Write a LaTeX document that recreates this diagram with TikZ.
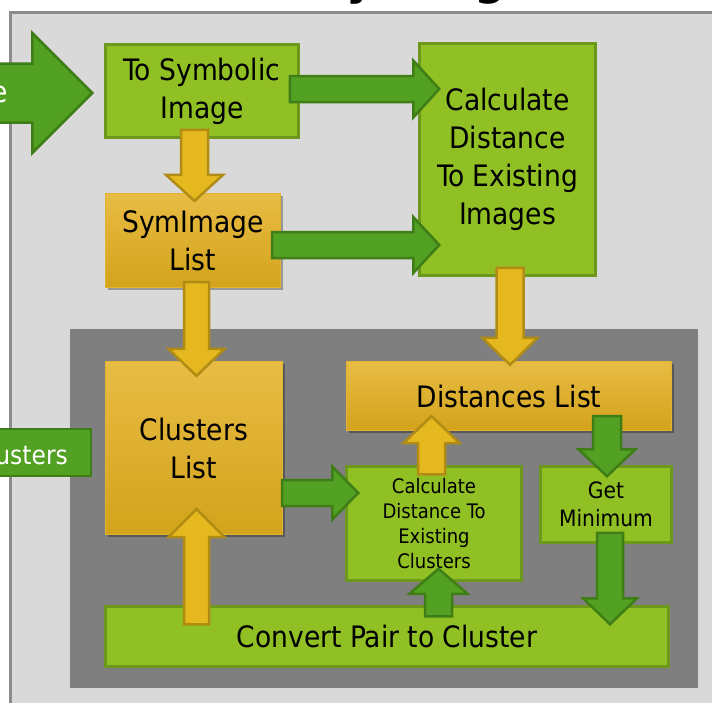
\documentclass[tikz,border=0pt]{standalone}
\usepackage{fontspec}
\setmainfont{DejaVu Sans Condensed}
\usetikzlibrary{calc,shadows}

\definecolor{panellight}{HTML}{D9D9D9}
\definecolor{panelline}{HTML}{8C8C8C}
\definecolor{paneldark}{HTML}{7F7F7F}
\definecolor{limefill}{HTML}{90C024}
\definecolor{limeline}{HTML}{6C991C}
\definecolor{grnfill}{HTML}{52A122}
\definecolor{grnline}{HTML}{3F7E17}
\definecolor{ylwfill}{HTML}{E6B820}
\definecolor{ylwline}{HTML}{B18C14}
\definecolor{ylwtop}{HTML}{E8BC44}
\definecolor{ylwbot}{HTML}{D3A31B}
\definecolor{ylwedge}{HTML}{E2B232}

% fat block arrow: style, tail, tip, half shaft width, half head width, head length
\newcommand\fatarrow[6]{%
  \coordinate (fa-b) at ($(#3)!#6!(#2)$);
  \draw[#1] ($(#2)!#4!90:(#3)$) -- ($(fa-b)!#4!90:(#3)$) -- ($(fa-b)!#5!90:(#3)$)
    -- (#3) -- ($(fa-b)!#5!-90:(#3)$) -- ($(fa-b)!#4!-90:(#3)$)
    -- ($(#2)!#4!-90:(#3)$) -- cycle;
}

\tikzset{
  bigtext/.style={font=\fontsize{29.5}{38}\selectfont},
  smalltext/.style={font=\fontsize{20}{25}\selectfont},
  limebox/.style={draw=limeline, fill=limefill, line width=2.5pt, inner sep=0pt,
    align=center, text=black},
  ylwbox/.style={draw=ylwedge, line width=1.2pt, top color=ylwtop, bottom color=ylwbot,
    inner sep=0pt, align=center, text=black,
    drop shadow={shadow xshift=2pt, shadow yshift=-2.5pt, opacity=0.3, fill=black}},
  grnarrow/.style={fill=grnfill, draw=grnline, line width=2.5pt, line join=miter},
  ylwarrow/.style={fill=ylwfill, draw=ylwline, line width=2.5pt, line join=miter},
}

\begin{document}
\begin{tikzpicture}[x=1pt, y=-1pt]
\useasboundingbox (0,0) rectangle (712,702);
\clip (0,0) rectangle (712,702);

% heading, sitting above the page edge
\node[anchor=base west, inner sep=0pt, font=\fontsize{50}{52}\selectfont\bfseries, text=black]
  (title) at (195,-7) {Library Diagram};

% panels
\fill[panellight, draw=panelline, line width=3pt] (10,12) rectangle (726,720);
\fill[paneldark] (70,329) rectangle (698,688);

% incoming label on the left
\node[fill=grnfill, draw=grnline, line width=2.5pt, minimum width=150pt, minimum height=47pt, inner sep=0pt]
  (clulabel) at (16,452.5) {};
\node[anchor=east, font=\fontsize{26}{30}\selectfont, text=white, inner sep=0pt] (clutext) at (68,455) {Clusters};

% upper stage
\node[limebox, bigtext, minimum width=193pt, minimum height=93pt] (tosym) at (202,91) {To Symbolic\\Image};
\node[limebox, bigtext, minimum width=176pt, minimum height=232pt] (calcdist) at (507.5,159.5)
  {Calculate\\Distance\\To Existing\\Images};
\node[ylwbox, bigtext, minimum width=175pt, minimum height=94pt] (symlist) at (193,240.5) {SymImage\\List};

% lower stage
\node[ylwbox, bigtext, minimum width=177pt, minimum height=173pt] (clusters) at (194,448) {Clusters\\List};
\node[ylwbox, bigtext, minimum width=325pt, minimum height=69pt] (distlist) at (509,396) {Distances List};
\node[limebox, smalltext, minimum width=175pt, minimum height=114pt] (calcclus) at (434,523.5)
  {Calculate\\Distance To\\Existing\\Clusters};
\node[limebox, font=\fontsize{22.5}{28}\selectfont, minimum width=131pt, minimum height=76pt] (getmin) at (606,504.5)
  {Get\\Minimum};
\node[limebox, bigtext, minimum width=563pt, minimum height=60pt] (convert) at (387,636.5)
  {Convert Pair to Cluster};

% arrow end points
\coordinate (inS) at (-80,93);
\coordinate (inT) at ($(tosym.west)+(-12,2)$);
\coordinate (a1s) at ($(tosym.east)+(-10,-2)$);
\coordinate (a1t) at ($(a1s -| calcdist.west)+(21,0)$);
\coordinate (a2s) at ($(symlist.east)+(-9,4.5)$);
\coordinate (a2t) at ($(a2s -| calcdist.west)+(21,0)$);
\coordinate (a3s) at ($(tosym.south)+(-7.5,-9)$);
\coordinate (a3t) at ($(a3s |- symlist.north)+(0,8)$);
\coordinate (a4s) at ($(symlist.south)+(3.5,-6)$);
\coordinate (a4t) at ($(a4s |- clusters.north)+(0,15)$);
\coordinate (a5s) at ($(calcdist.south)+(2.5,-9)$);
\coordinate (a5t) at ($(a5s |- distlist.north)+(0,4)$);
\coordinate (a6s) at ($(calcclus.north)+(-2.5,9)$);
\coordinate (a6t) at ($(a6s |- distlist.south)+(0,-15)$);
\coordinate (a7s) at ($(getmin.north |- distlist.south)+(1,-15)$);
\coordinate (a7t) at ($(getmin.north)+(1,11)$);
\coordinate (a8s) at ($(getmin.south)+(4,-11)$);
\coordinate (a8t) at ($(a8s |- convert.north)+(0,19)$);
\coordinate (a9s) at ($(clusters.south |- convert.north)+(2.5,19)$);
\coordinate (a9t) at ($(clusters.south)+(2.5,-26)$);
\coordinate (a10s) at ($(calcclus.south |- convert.north)+(4.5,11)$);
\coordinate (a10t) at ($(calcclus.south)+(4.5,-13)$);
\coordinate (a11s) at ($(clusters.east)+(-1,45)$);
\coordinate (a11t) at ($(a11s -| calcclus.west)+(13,0)$);

% connectors
\fatarrow{grnarrow}{inS}{inT}{29.5pt}{60pt}{60pt}
\node[anchor=east, bigtext, text=white, inner sep=0pt] (intext) at ($(inT)+(-84,2)$) {Image};
\fatarrow{grnarrow}{a1s}{a1t}{13pt}{28.5pt}{26pt}
\fatarrow{grnarrow}{a2s}{a2t}{13pt}{28pt}{26pt}
\fatarrow{ylwarrow}{a3s}{a3t}{13.5pt}{28.5pt}{26pt}
\fatarrow{ylwarrow}{a4s}{a4t}{12.5pt}{28pt}{27pt}
\fatarrow{ylwarrow}{a5s}{a5t}{13.5pt}{27.5pt}{27pt}
\fatarrow{ylwarrow}{a6s}{a6t}{13.5pt}{28pt}{27pt}
\fatarrow{grnarrow}{a7s}{a7t}{14pt}{28.5pt}{27pt}
\fatarrow{grnarrow}{a8s}{a8t}{13pt}{27pt}{26pt}
\fatarrow{ylwarrow}{a9s}{a9t}{12.5pt}{28pt}{28pt}
\fatarrow{grnarrow}{a10s}{a10t}{13.5pt}{29pt}{25pt}
\fatarrow{grnarrow}{a11s}{a11t}{13pt}{26.5pt}{26pt}
\end{tikzpicture}
\end{document}
